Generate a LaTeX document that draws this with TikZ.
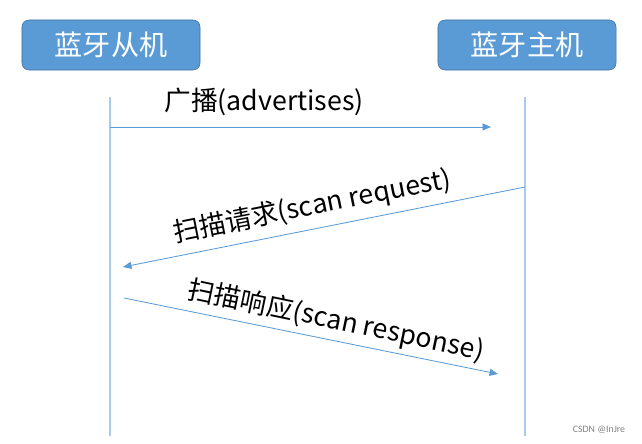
\documentclass[tikz,border=0pt]{standalone}
\usepackage{fontspec}
\setmainfont{Carlito}
\newfontfamily\cjk{Noto Sans CJK SC}
\usetikzlibrary{arrows.meta}
\definecolor{boxblue}{HTML}{5B9BD5}
\definecolor{boxedge}{HTML}{41719C}
\definecolor{lifeblue}{HTML}{A9CBEA}
\begin{document}
\begin{tikzpicture}[x=0.025cm, y=-0.025cm,
    dev/.style={draw=boxedge, fill=boxblue, rounded corners=5pt, minimum width=4.45cm,
      minimum height=1.25cm, text=white, font=\cjk\fontsize{20}{24}\selectfont},
    lbl/.style={font=\cjk\fontsize{19}{22}\selectfont, inner sep=1pt},
    msg/.style={boxblue, semithick, -{Triangle[length=6pt, width=5pt]}}]
  \useasboundingbox (0,0) rectangle (642,444);
  \node[dev] (slave) at (111,45) {蓝牙从机};
  \node[dev] (master) at (527,45) {蓝牙主机};
  % lifelines
  \coordinate (s0) at (110,97); \coordinate (s1) at (110,436);
  \coordinate (m0) at (525,97); \coordinate (m1) at (525,436);
  \draw[lifeblue, thick] (s0) -- (s1);
  \draw[lifeblue, thick] (m0) -- (m1);
  % messages
  \coordinate (a0) at (110,127); \coordinate (a1) at (491,127);
  \coordinate (b0) at (525,187); \coordinate (b1) at (123,267);
  \coordinate (c0) at (124,298); \coordinate (c1) at (498,374);
  \draw[msg] (a0) -- (a1);
  \draw[msg] (b0) -- (b1);
  \draw[msg] (c0) -- (c1);
  \node[lbl] (adv) at (264,102) {广播(advertises)};
  \node[lbl, rotate=11.3] (req) at (312,207) {扫描请求(scan request)};
  \node[lbl, rotate=-11.8] (rsp) at (336,321) {扫描响应(scan response)};
  \node[font=\fontsize{7}{8}\selectfont, text=gray] (mark) at (599,430) {CSDN @InJre};
\end{tikzpicture}
\end{document}
